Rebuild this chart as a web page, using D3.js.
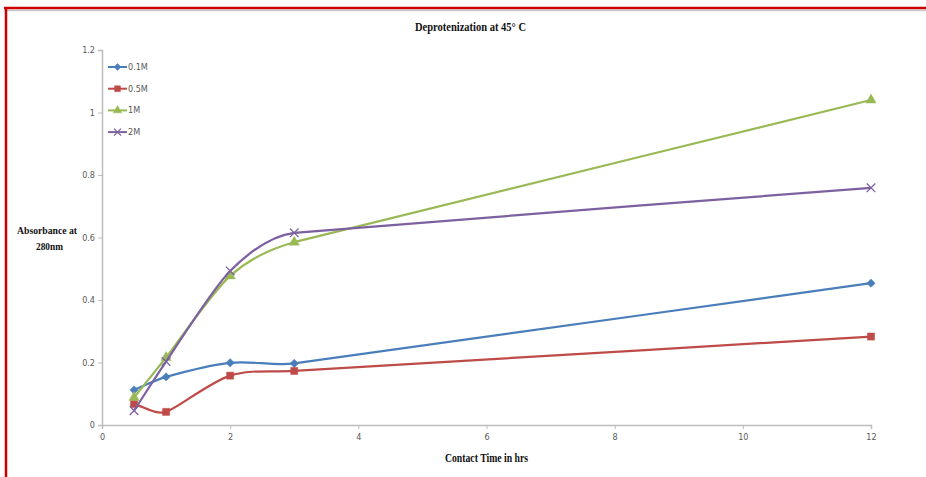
<!DOCTYPE html>
<html><head><meta charset="utf-8">
<script src="https://cdn.jsdelivr.net/npm/d3@7"></script>
<style>body{margin:0;background:#fff;}svg{display:block;}</style>
</head><body>
<svg id="c" width="926" height="477"></svg>
<script>
const times = [0.5, 1, 2, 3, 12];
const seriesNames = ["0.1M", "0.5M", "1M", "2M"];
const v01 = [0.112, 0.154, 0.199, 0.197, 0.454];
const v05 = [0.067, 0.042, 0.158, 0.173, 0.283];
const v1  = [0.088, 0.216, 0.477, 0.585, 1.040];
const v2  = [0.046, 0.203, 0.493, 0.615, 0.759];
const xTicks = [0, 2, 4, 6, 8, 10, 12];
const yTicks = [0, 0.2, 0.4, 0.6, 0.8, 1, 1.2];
const colors = ["#4a7ebb", "#be4b48", "#98b954", "#7d60a0"];
const symbols = ["diamond", "square", "triangle", "x"];
const allVals = [v01, v05, v1, v2];

const svg = d3.select("#c");
// frame
svg.append("rect").attr("x",0).attr("y",0).attr("width",926).attr("height",477).attr("fill","#fff");
svg.append("line").attr("x1",4).attr("x2",926).attr("y1",10.5).attr("y2",10.5).attr("stroke","#c8c8c8").attr("stroke-width",1.5);
svg.append("line").attr("x1",4).attr("x2",926).attr("y1",8).attr("y2",8).attr("stroke","#cc0000").attr("stroke-width",2.5);
svg.append("line").attr("x1",6).attr("x2",6).attr("y1",7).attr("y2",477).attr("stroke","#cc0000").attr("stroke-width",2.5);

const x = d3.scaleLinear().domain([0, 12]).range([102, 871]);
const y = d3.scaleLinear().domain([0, 1.2]).range([425, 50]);

const axisColor = "#bdbdbd";
const gx = svg.append("g").attr("transform","translate(0,425)")
  .call(d3.axisBottom(x).tickValues(xTicks).tickFormat(d3.format("d")).tickSize(4).tickPadding(5));
const gy = svg.append("g").attr("transform","translate(102,0)")
  .call(d3.axisLeft(y).tickValues(yTicks).tickFormat(d => d === 0 ? "0" : (d === 1 ? "1" : d3.format(".1f")(d))).tickSize(4).tickPadding(3));
[gx, gy].forEach(g => {
  g.select(".domain").attr("stroke", axisColor).attr("stroke-width", 1.5);
  g.selectAll(".tick line").attr("stroke", axisColor);
  g.selectAll(".tick text").attr("fill", "#595959").attr("font-family", "'Liberation Sans Narrow','DejaVu Sans Condensed',sans-serif").attr("font-size", 9);
});

// Spreadsheet-style smoothing: tangent through neighbours, arm length limited by the shorter adjacent segment
function smoothCurve(context) {
  let pts = [];
  const dist = (a, b) => Math.hypot(b[0] - a[0], b[1] - a[1]);
  return {
    areaStart() {}, areaEnd() {},
    lineStart() { pts = []; },
    point(px, py) { pts.push([+px, +py]); },
    lineEnd() {
      const n = pts.length;
      if (!n) return;
      context.moveTo(pts[0][0], pts[0][1]);
      if (n === 1) return;
      const tang = pts.map((p, i) => {
        const a = pts[Math.max(0, i - 1)], b = pts[Math.min(n - 1, i + 1)];
        const dx = b[0] - a[0], dy = b[1] - a[1], L = Math.hypot(dx, dy) || 1;
        let arm;
        if (i === 0) arm = dist(pts[0], pts[1]);
        else if (i === n - 1) arm = dist(pts[n - 2], pts[n - 1]);
        else arm = Math.min(dist(pts[i - 1], p), dist(p, pts[i + 1]));
        return [dx / L * arm / 3, dy / L * arm / 3];
      });
      for (let i = 0; i < n - 1; i++) {
        const p = pts[i], q = pts[i + 1];
        context.bezierCurveTo(p[0] + tang[i][0], p[1] + tang[i][1], q[0] - tang[i + 1][0], q[1] - tang[i + 1][1], q[0], q[1]);
      }
    }
  };
}

const line = d3.line().x(d => x(d[0])).y(d => y(d[1])).curve(smoothCurve);

function sym(type, size) {
  if (type === "diamond") return d3.symbol(d3.symbolDiamond2 || d3.symbolDiamond, size*0.9)();
  if (type === "square") return d3.symbol(d3.symbolSquare, size)();
  if (type === "triangle") return d3.symbol(d3.symbolTriangle, size*0.9)();
  return d3.symbol(d3.symbolX, size)();
}

allVals.forEach((vals, i) => {
  const pts = times.map((t, j) => [t, vals[j]]);
  svg.append("path").attr("d", line(pts)).attr("fill","none").attr("stroke", colors[i]).attr("stroke-width", 2.2);
  svg.append("g").selectAll("path").data(pts).join("path")
    .attr("transform", d => `translate(${x(d[0])},${y(d[1])})`)
    .attr("d", sym(symbols[i], 50))
    .attr("fill", symbols[i] === "x" ? "none" : colors[i])
    .attr("stroke", colors[i])
    .attr("stroke-width", symbols[i] === "x" ? 1.3 : 0.5);
});

// legend
const lg = svg.append("g");
seriesNames.forEach((n, i) => {
  const yy = 67 + i * 21.7;
  lg.append("line").attr("x1",108).attr("x2",127).attr("y1",yy).attr("y2",yy).attr("stroke",colors[i]).attr("stroke-width",2);
  lg.append("path").attr("transform",`translate(117.5,${yy})`).attr("d", sym(symbols[i], 34))
    .attr("fill", symbols[i] === "x" ? "none" : colors[i]).attr("stroke", colors[i]).attr("stroke-width", symbols[i] === "x" ? 1.2 : 0.5);
  lg.append("text").attr("x",128).attr("y",yy+3).text(n)
    .attr("font-family","'Liberation Sans Narrow','DejaVu Sans Condensed',sans-serif").attr("font-size",9).attr("fill","#595959");
});

// titles
const serif = "'Liberation Serif','Times New Roman',serif";
svg.append("text").attr("x",415).attr("y",31).text("Deprotenization at 45° C")
  .attr("font-family",serif).attr("font-weight","bold").attr("font-size",12)
  .attr("textLength",111).attr("lengthAdjust","spacingAndGlyphs").attr("fill","#111");
svg.append("text").attr("x",445).attr("y",462).text("Contact Time in hrs")
  .attr("font-family",serif).attr("font-weight","bold").attr("font-size",11.5)
  .attr("textLength",83).attr("lengthAdjust","spacingAndGlyphs").attr("fill","#111");
svg.append("text").attr("x",17).attr("y",234).text("Absorbance at")
  .attr("font-family",serif).attr("font-weight","bold").attr("font-size",11)
  .attr("textLength",60).attr("lengthAdjust","spacingAndGlyphs").attr("fill","#111");
svg.append("text").attr("x",36).attr("y",250).text("280nm")
  .attr("font-family",serif).attr("font-weight","bold").attr("font-size",11)
  .attr("textLength",27).attr("lengthAdjust","spacingAndGlyphs").attr("fill","#111");
</script>
</body></html>
